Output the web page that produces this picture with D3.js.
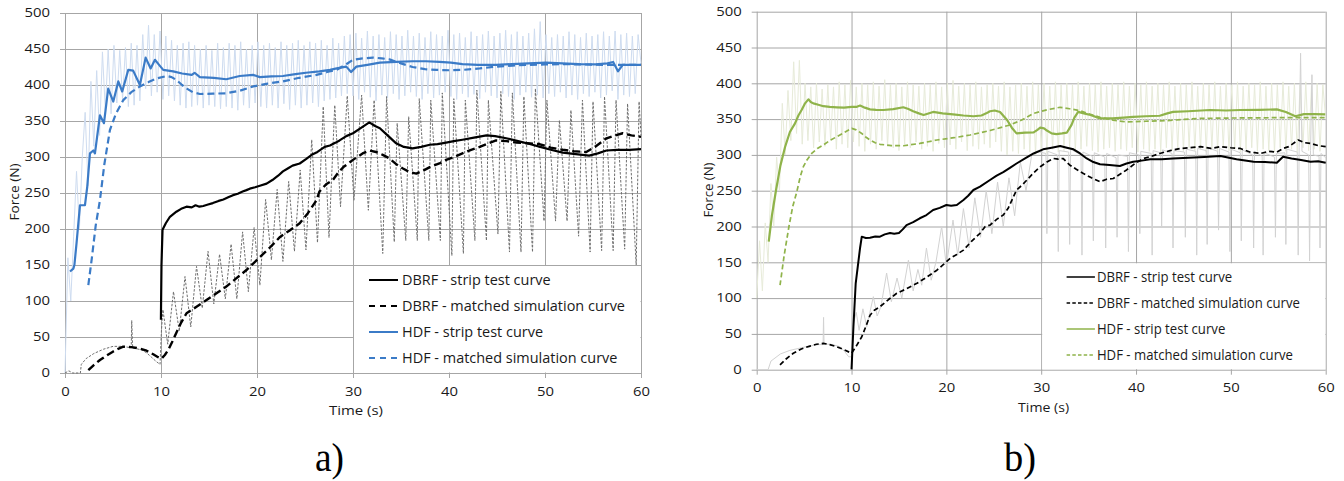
<!DOCTYPE html>
<html><head><meta charset="utf-8">
<script src="https://cdn.jsdelivr.net/npm/d3@7"></script>
<style>body{margin:0;background:#fff}svg{display:block}</style>
</head><body>
<script>
// ---------------- DATA ----------------
const xTicks = [0, 10, 20, 30, 40, 50, 60];
const yTicks = [0, 50, 100, 150, 200, 250, 300, 350, 400, 450, 500];
const xTitle = "Time (s)";
const yTitle = "Force (N)";
const panelLabels = ["a)", "b)"];
const legendLabels = ["DBRF - strip test curve", "DBRF - matched simulation curve", "HDF - strip test curve", "HDF - matched simulation curve"];

// Panel a) — [time s, force N]
const dbrfTestA = [[9.99,74],[10.05,150],[10.16,199],[10.5,208],[10.93,217],[11.6,224],[12.1,228],[12.66,231],[13.2,230],[13.6,233],[14.0,231],[14.4,232],[14.9,234],[15.4,236],[16,239],[16.5,241],[17,244],[17.5,247],[18,249],[18.5,252],[18.9,254],[19.25,256],[19.8,258],[20.3,260],[21,263],[21.6,268],[22.2,274],[22.7,280],[23.2,284],[23.7,288],[24.45,291],[25.1,297],[25.7,303],[26.3,307],[27.05,314],[27.6,316],[28.2,320],[28.6,323],[29.3,329],[30,333],[30.8,340],[31.7,348],[32.3,343],[32.8,340],[33.6,330],[34.5,319],[35.3,314],[36.2,312],[37.1,314],[38,317],[38.8,318],[39.7,320],[40.5,322],[41.4,324],[42.6,327],[43.9,330],[44.8,329],[45.96,326],[47.2,322],[48.4,318],[49.5,314],[50.6,310],[51.85,306],[53.2,304],[54.6,302],[55.5,305],[56.4,309],[57.5,310],[58.8,310],[60,311]];
const dbrfSimA = [[2.43,4],[3.0,11],[3.64,18],[4.3,24],[5.03,30],[5.6,34],[6.07,36.5],[6.9,36],[7.8,34],[8.5,31],[9.19,26],[9.7,22],[10.06,20],[10.4,25],[10.75,32],[11.2,44],[11.6,56],[12.1,70],[12.66,83],[13.7,92],[14.7,101],[15.7,110],[16.8,120],[17.8,131],[18.9,143],[19.6,152],[20.3,161],[21.4,175],[22.4,189],[23.4,198],[24.45,208],[25.3,222],[26.2,240],[26.5,252],[27.2,262],[27.9,268],[28.5,279],[29,286],[30,296],[31,305],[31.7,309],[32.4,307],[33.1,303],[33.8,298],[34.5,290],[35.2,284],[35.9,279],[36.6,277],[37.3,281],[38,286],[39,291],[39.7,296],[40.5,300],[41.4,305],[42.3,310],[43.2,314],[44.1,319],[44.9,323],[46,322],[47,320],[48.2,319],[49.4,318],[50.6,313],[51.85,310],[53,308],[54.3,307],[55.3,315],[56.4,326],[57.3,330],[58.1,333],[59,330],[60,328]];
const hdfTestA = [[0.52,141],[0.87,145],[0.98,150],[1.2,180],[1.39,208],[1.56,233],[2.08,233],[2.32,259],[2.6,305],[2.95,309],[3.12,305],[3.64,358],[4.06,347],[4.5,395],[5.03,377],[5.55,405],[5.96,391],[6.59,421],[7.1,420],[7.8,400],[8.4,438],[8.92,423],[9.37,435],[9.8,428],[10.23,421],[11.27,419],[12.2,416],[13.2,414],[13.5,417],[14.05,411],[15.5,410],[16.8,408],[18.2,412.5],[19.6,414],[20.3,411],[21.5,412],[22.7,412.5],[24,415],[25.1,417],[26.5,419],[27.6,421],[28.3,423],[29.3,425.5],[29.8,418],[30.35,425.5],[31.5,428],[32.8,431],[34.5,432],[36.2,433],[37.6,433],[39,432],[40.2,431],[41.4,429],[43,428],[44.9,428],[46.5,429],[48.3,430],[50.1,431],[51.8,430],[53.5,429],[55.3,428.7],[56.5,430],[57.1,432],[57.6,419],[58.1,428],[59,428],[60,428]];
const hdfSimA = [[2.43,122],[2.8,160],[3.2,205],[3.64,240],[4.1,290],[4.68,337.5],[5.3,360],[6.07,379],[6.9,390],[7.8,398],[8.7,404],[9.54,409],[10.6,412.5],[11.1,411],[11.6,407],[12.2,400],[12.7,395],[13.3,390],[14.05,387.5],[15.4,388],[16.8,388.5],[18.2,392],[19.6,398],[21.1,402],[22.7,405],[24.4,410],[26.2,414],[27.3,418],[28.3,421],[29.2,428],[30,435],[31,437],[32.1,438],[33,437],[33.8,435.6],[35,430],[36.2,425],[37.5,422],[38.7,421],[40,420.5],[41.4,421],[43.2,423],[44.9,425.5],[46.6,427],[48.3,428],[50,428.5],[52,429],[54,428.5],[56,428],[58,428],[60,428]];
// raw DBRF strip signal (grey dotted)
const dbrfRawA = [[0,0],[0.4,3],[0.8,0],[1.6,0],[1.7,12],[2.2,20],[3,27],[4,33],[5,37],[6,37],[6.9,35],[6.95,73],[7.05,35],[8,32],[8.5,28],[9,22],[9.5,16],[9.9,12],[10.05,60],[10.2,88],[10.7,40],[11.3,113],[11.9,58],[12.5,134],[13.1,64],[13.7,148],[14.3,90],[14.9,169],[15.5,96],[16.1,165],[16.7,103],[17.3,179],[17.9,103],[18.5,196],[19.1,113],[19.7,202],[20.3,122],[20.9,241],[21.5,157],[22.1,255],[22.7,155],[23.3,266],[23.9,169],[24.5,282],[25.1,171],[25.7,324],[26.3,181],[26.9,370],[27.5,188],[28.1,372],[28.7,231],[29.4,385],[30.1,240],[30.9,386],[31.6,226],[32.2,379],[33.1,166],[33.5,384],[34.3,182],[34.6,347],[35.5,184],[35.8,356],[36.7,184],[36.9,381],[37.9,184],[38.1,379],[39.1,184],[39.3,389],[40.3,163],[40.5,381],[41.5,166],[41.7,379],[42.7,184],[42.9,393],[43.9,184],[44.1,379],[45.1,193],[45.4,391],[46.3,168],[46.6,389],[47.5,168],[47.8,384],[48.7,168],[49.0,395],[49.9,211],[50.2,379],[51.1,211],[51.5,351],[52.3,211],[52.7,365],[53.5,190],[53.9,379],[54.7,168],[55.0,377],[55.9,170],[56.2,384],[57.1,170],[57.4,379],[58.3,172],[58.6,374],[59.5,150],[59.8,377],[60,330]];
// raw HDF strip signal (pale blue), sampled every 0.3 s from t = 0
const hdfRawStep = 0.3;
const hdfRawA = [0,160,100,190,280,200,300,362,260,405,
315,420,330,446,365,450,360,455,375,448,
380,452,370,458,372,455,378,470,395,483,
385,470,390,475,380,468,385,462,378,455,
372,458,368,460,370,455,372,450,368,455,
372,448,370,458,367,452,370,458,368,455,
365,460,372,450,368,455,375,460,370,455,
368,458,372,452,368,460,374,455,366,458,
372,462,368,455,372,460,375,458,370,462,
378,455,380,465,382,458,385,468,388,470,
385,472,380,465,390,475,383,468,378,470,
386,466,382,474,388,470,380,468,385,476,
390,468,384,472,380,466,388,474,382,470,
386,468,390,476,384,470,380,472,388,466,
383,474,387,468,381,470,390,475,385,468,
382,472,388,476,384,470,380,474,386,468,
390,472,383,478,386,488,382,470,388,466,
384,470,390,468,382,474,386,470,380,466,
388,472,384,468,390,470,382,474,386,468,
392,475,380,470,386,472,384,468,388,470,
430];

// Panel b)
const dbrfTestB = [[10,0.5],[10.2,60],[10.44,120.7],[10.7,148.6],[10.9,170],[11.08,185.8],[11.5,184],[11.95,184.4],[12.5,186],[13,185.8],[13.5,189],[14.06,191],[14.5,190],[15,191],[15.4,196],[15.8,202],[16.5,206],[17.2,211.5],[17.9,216],[18.6,223],[19.3,226],[20,230],[20.5,229],[21.1,230],[21.8,237],[22.3,243],[22.85,251],[23.55,255.6],[24.6,265],[25.3,271],[26,276],[26.7,282],[27.4,288],[28.3,295],[29.2,302],[30.2,307.8],[31.1,310],[32,312.4],[32.7,310],[33.4,307.8],[34.1,302],[34.8,295],[35.5,290],[36.2,287],[37.2,286],[38.3,284.5],[39,288],[39.7,290.5],[40.6,292],[41.5,293.8],[42.7,294],[43.9,295],[45.5,296],[47.2,297],[48.9,298.4],[50.6,294],[52.4,290.5],[53.6,290],[54.85,289],[55.5,297.4],[56.4,295],[57.4,293],[58.4,290.5],[59.2,291],[60,289]];
const dbrfSimB = [[2.46,6.6],[3.1,15],[3.86,23],[4.7,29],[5.62,33],[6.3,35.5],[7.03,36.8],[7.7,35],[8.44,32],[9.2,28],[10,23],[10.5,33],[11.08,46],[11.5,60],[11.95,76],[12.4,83],[13,88],[13.9,98],[14.77,106.7],[15.8,113],[16.9,120.7],[17.9,129],[19,139],[19.7,147],[20.4,155.6],[21.1,161],[21.8,167],[22.7,180],[23.55,190.5],[24.1,200],[24.6,202],[25.3,210],[26,216],[26.5,225],[27.07,241.6],[27.4,251],[28,258],[28.5,265],[29.2,275],[29.9,283.5],[30.6,290],[31.3,295],[31.8,294],[32.3,295],[33,286],[33.7,280],[34.45,274],[35.3,268],[36.2,262.5],[36.9,266],[37.6,267],[38.3,273],[39,279],[39.9,288],[40.8,295],[41.6,298],[42.5,302],[43.6,306],[44.65,309],[45.7,310],[46.8,311.5],[47.9,309],[48.9,311.5],[50,310],[51,309],[52,304],[53.1,302],[54,305],[54.85,304],[55.5,309],[56.1,311.5],[57.1,320.8],[57.8,317],[58.4,316],[59.2,313],[60,311.5]];
const hdfTestB = [[1.27,179],[1.6,215],[2.04,251],[2.5,285],[2.99,311],[3.5,332],[4.04,344],[4.4,355],[4.75,363],[5.1,372],[5.45,377.6],[5.7,374],[5.97,372],[6.5,370],[7.03,368],[7.7,367],[8.44,366.5],[9.2,366],[10.02,367],[10.5,367],[10.9,369],[11.4,366],[11.95,363.6],[12.6,363],[13.36,362.7],[14.4,364],[15.46,366.5],[16,364],[16.5,361],[17.1,358],[17.6,355.7],[18.6,360],[19.6,358],[20.7,356.7],[21.8,355],[22.85,354],[23.7,355],[24.2,358],[24.6,361],[25.1,362],[25.66,360],[26.4,348.7],[26.9,338],[27.4,330],[28.3,331],[29.2,331.5],[29.6,335],[29.9,338],[30.3,337],[30.6,334],[31.1,330],[31.6,329],[32.2,330],[32.7,331],[33.2,342],[33.5,352],[33.9,360],[34.5,358],[35.2,355.7],[36.2,351],[37.5,351],[38.7,352],[39.7,353],[41,354],[42.5,354.7],[43.3,358],[43.9,360],[45.5,361],[47.8,362.7],[49.5,362],[51,362.7],[53,363],[54.85,363.6],[55.8,360],[56.8,354],[57.7,357],[58.8,357],[59.95,356.7]];
const hdfSimB = [[2.46,118],[2.9,160],[3.4,200],[3.8,228],[4.22,248],[4.6,270],[4.92,283.5],[5.3,293],[5.8,302],[6.4,309],[7.03,313.8],[7.7,320],[8.44,325.4],[9.2,331],[10.02,337],[10.5,335],[11.08,330],[11.5,325],[11.95,320.8],[12.5,317],[13,314.8],[14.2,313],[15.46,312.8],[17.2,316],[19,320.8],[20.8,324],[22.5,327.8],[24.6,334],[26.7,341.8],[28,349],[29.2,358],[30.6,363],[32,366.5],[33,364.5],[34.1,361.7],[35.1,357],[36.2,352.5],[37.6,348.5],[39,346],[41,347],[43.25,347.8],[45,349.5],[46.8,351],[50,351.5],[55,352],[60,352]];
const dbrfRawB = [[0,0],[1.2,0],[1.5,12],[2.5,22],[3.5,27],[4.5,30],[5.5,33],[6.5,35],[7.0,35],[7.05,73],[7.1,36],[8,35],[8.8,32],[9.3,25],[9.7,18],[10,18],[10.2,65],[10.5,80],[10.8,55],[11.2,85],[11.6,60],[12.3,102],[12.7,75],[13.1,88],[13.7,135],[14.2,95],[14.8,128],[15.3,100],[16,153],[16.5,110],[17,140],[17.4,118],[17.9,170],[18.4,125],[18.9,150],[19.5,200],[20,145],[20.7,209],[21.2,160],[21.8,225],[22.4,170],[23,240],[23.6,185],[24.2,250],[24.8,190],[25.4,262],[26,200],[26.6,268],[27.2,215],[27.8,290],[28.4,250],[29,300],[29.5,305],[30.5,302],[30.6,190],[30.7,305],[31.7,300],[31.8,165],[31.9,306],[32.9,304],[33.0,175],[33.1,308],[34.2,300],[34.3,160],[34.4,304],[35.4,298],[35.5,180],[35.6,303],[36.7,297],[36.8,170],[36.9,302],[37.9,296],[38.0,185],[38.1,300],[39.1,298],[39.2,165],[39.3,303],[40.3,300],[40.4,190],[40.5,305],[41.6,302],[41.7,160],[41.8,306],[42.6,303],[42.7,200],[42.8,307],[43.8,302],[43.9,170],[44.0,306],[45.1,304],[45.2,185],[45.3,308],[46.3,305],[46.4,160],[46.5,309],[47.4,306],[47.5,175],[47.6,310],[48.6,305],[48.7,195],[48.8,309],[49.8,304],[49.9,165],[50.0,308],[51.0,303],[51.1,180],[51.2,307],[52.3,300],[52.4,170],[52.5,305],[53.3,298],[53.4,160],[53.5,303],[54.6,297],[54.7,185],[54.8,302],[55.7,303],[55.8,175],[55.9,308],[57.0,304],[57.1,160],[57.2,310],[57.35,442],[57.5,305],[58.2,300],[58.3,152],[58.4,306],[58.55,412],[58.7,300],[59.3,298],[59.4,170],[59.5,302],[60,296]];
const hdfRawB = [100,180,110,205,150,260,200,297,250,372,
300,390,320,430,330,432,315,400,320,395,
310,400,318,392,312,398,320,395,308,402,
315,398,310,404,318,395,312,400,305,398,
315,402,308,396,320,405,312,398,310,400,
306,395,315,402,310,398,318,396,308,400,
312,398,305,402,316,395,310,400,314,404,
308,396,318,400,306,398,312,402,308,395,
315,398,310,400,318,396,305,402,300,395,
305,398,302,400,308,396,304,402,300,398,
306,400,302,396,308,402,304,398,306,400,
310,398,305,402,308,396,312,400,306,398,
304,402,308,396,310,400,305,398,308,402,
306,396,310,400,304,398,308,402,305,396,
308,400,304,398,310,402,306,396,308,400,
305,398,310,402,306,396,308,400,304,398,
308,402,305,396,310,400,306,398,308,402,
304,396,308,400,310,398,305,402,308,396,
306,400,304,398,310,402,305,396,308,400,
304,398,310,402,306,396,308,400,305,398,
350];

// ---------------- DRAWING ----------------
const W = 1344, H = 481;
const GRID = "#a6a6a6";
const FONT = "'Open Sans', 'Noto Sans', sans-serif";
const svg = d3.select("body").append("svg").attr("width", W).attr("height", H);

function sampled(arr, step) { return arr.map((v, i) => [i * step, v]); }

function stretch(sel, f) {
  sel.each(function () {
    const l = this.getComputedTextLength();
    d3.select(this).attr("textLength", l * f).attr("lengthAdjust", "spacingAndGlyphs");
  });
}

function drawPanel(p) {
  const x = d3.scaleLinear().domain([0, 60]).range([p.x0, p.x1]);
  const y = d3.scaleLinear().domain([0, 500]).range([p.y0, p.y1]);
  const w = p.x1 - p.x0, h = p.y0 - p.y1;
  const g = svg.append("g");

  // grid + axes
  const ya = g.append("g").attr("transform", `translate(${p.x1},0)`)
    .call(d3.axisLeft(y).tickValues(yTicks).tickSize(w + 5).tickPadding(10));
  const xa = g.append("g").attr("transform", `translate(0,${p.y1})`)
    .call(d3.axisBottom(x).tickValues(xTicks).tickSize(h + 5).tickPadding(p.xpad));
  [ya, xa].forEach(a => {
    a.select(".domain").remove();
    a.selectAll("line").attr("stroke", GRID).attr("stroke-width", 1);
    a.selectAll("text").attr("font-family", FONT).attr("font-size", 11.8).attr("fill", "#1a1a1a");
    stretch(a.selectAll("text"), 1.26);
  });

  const line = d3.line().x(d => x(d[0])).y(d => y(d[1]));
  p.series.forEach(s => {
    g.append("path").attr("d", line(s.data)).attr("fill", "none")
      .attr("stroke", s.color).attr("stroke-width", s.width)
      .attr("stroke-dasharray", s.dash || null)
      .attr("stroke-linejoin", "round");
  });

  // legend box
  const lx = x(30), ly = y(150);
  g.append("rect").attr("x", lx + 1).attr("y", ly + 1)
    .attr("width", p.x1 - lx - 1.5).attr("height", p.y0 - ly - 1.5).attr("fill", "#fff");
  const texts = [];
  p.legend.forEach((e, i) => {
    const ry = ly + p.leg.top + i * p.leg.gap;
    g.append("line").attr("x1", lx + p.leg.s0).attr("x2", lx + p.leg.s1)
      .attr("y1", ry).attr("y2", ry).attr("stroke", e.color)
      .attr("stroke-width", e.width).attr("stroke-dasharray", e.dash || null);
    texts.push(g.append("text").attr("x", lx + p.leg.t).attr("y", ry).attr("dy", "0.36em")
      .attr("font-family", FONT).attr("font-size", p.leg.fs).attr("fill", "#1a1a1a")
      .text(legendLabels[i]));
  });
  const longest = texts[1].node().getComputedTextLength();
  const f = p.leg.target / longest;
  texts.forEach(t => stretch(t, f));

  // axis titles
  const tt = g.append("text").attr("x", p.tx).attr("y", p.ty).attr("text-anchor", "middle")
    .attr("dy", "0.36em").attr("font-family", FONT).attr("font-size", 11.8).attr("fill", "#1a1a1a").text(xTitle);
  tt.attr("textLength", p.tw).attr("lengthAdjust", "spacingAndGlyphs");
  const yt = g.append("text").attr("transform", `translate(${p.yx},${p.yy}) rotate(-90)`)
    .attr("text-anchor", "middle").attr("dy", "0.36em").attr("font-family", FONT)
    .attr("font-size", 11.8).attr("fill", "#1a1a1a").text(yTitle);
  yt.attr("textLength", p.yw).attr("lengthAdjust", "spacingAndGlyphs");

  // panel label
  g.append("text").attr("x", p.lbx).attr("y", 471).attr("font-family", "'Liberation Serif', 'Times New Roman', serif")
    .attr("font-size", 40).attr("fill", "#000").attr("textLength", p.lbw).attr("lengthAdjust", "spacingAndGlyphs")
    .text(p.label);
}

const BLUE = "#3b7bc7", LBLUE = "#cedcf0", GREEN = "#8fb34a", LGREEN = "#e7ebd9";

drawPanel({
  x0: 65, x1: 641, y0: 373, y1: 13, xpad: 10,
  label: panelLabels[0], lbx: 315, lbw: 29,
  tx: 356, ty: 411, tw: 54, yx: 15, yy: 192, yw: 57,
  series: [
    { data: sampled(hdfRawA, hdfRawStep), color: LBLUE, width: 1 },
    { data: dbrfRawA, color: "#6f6f6f", width: 1, dash: "2.5,1.5" },
    { data: dbrfSimA, color: "#000", width: 2.4, dash: "8,4" },
    { data: dbrfTestA, color: "#000", width: 2.2 },
    { data: hdfSimA, color: BLUE, width: 2.2, dash: "7,4" },
    { data: hdfTestA, color: BLUE, width: 2.2 }
  ],
  legend: [
    { color: "#000", width: 2 },
    { color: "#000", width: 2, dash: "6,5" },
    { color: BLUE, width: 2 },
    { color: BLUE, width: 2, dash: "6,5" }
  ],
  leg: { top: 15, gap: 26, s0: 16, s1: 45, t: 49, fs: 14, target: 223 }
});

drawPanel({
  x0: 756.7, x1: 1325.7, y0: 369.7, y1: 11.7, xpad: 9,
  label: panelLabels[1], lbx: 1004, lbw: 32,
  tx: 1043.6, ty: 408, tw: 51, yx: 709, yy: 190, yw: 55,
  series: [
    { data: sampled(hdfRawB, hdfRawStep), color: LGREEN, width: 1 },
    { data: dbrfRawB, color: "#d2d2d2", width: 1 },
    { data: hdfSimB, color: GREEN, width: 1.7, dash: "5,3" },
    { data: hdfTestB, color: GREEN, width: 2.2 },
    { data: dbrfSimB, color: "#000", width: 1.7, dash: "5,3" },
    { data: dbrfTestB, color: "#000", width: 2 }
  ],
  legend: [
    { color: "#000", width: 1.5 },
    { color: "#000", width: 1.5, dash: "3.5,2.2" },
    { color: GREEN, width: 1.5 },
    { color: GREEN, width: 1.5, dash: "3.5,2.2" }
  ],
  leg: { top: 14.7, gap: 26, s0: 25.4, s1: 53.7, t: 55.7, fs: 14, target: 203 }
});
</script>
</body></html>
